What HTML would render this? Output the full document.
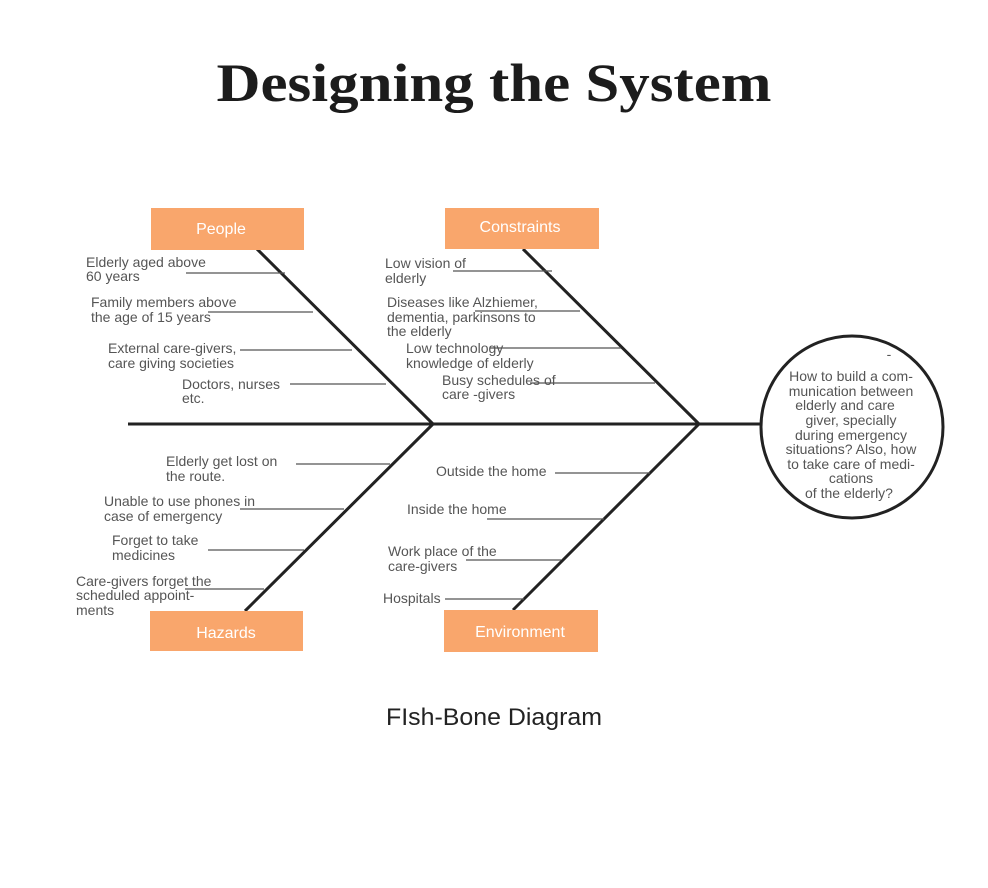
<!DOCTYPE html>
<html><head><meta charset="utf-8"><style>
html,body{margin:0;padding:0;background:#fff;}
svg{display:block;}
.t{font-family:"Liberation Sans",sans-serif;font-size:14px;fill:#555;}
.b{font-family:"Liberation Sans",sans-serif;font-size:16px;fill:#fff;}
</style></head><body>
<svg width="988" height="888" viewBox="0 0 988 888" xmlns="http://www.w3.org/2000/svg">
<rect width="988" height="888" fill="#fff"/>
<text x="494" y="101" text-anchor="middle" font-family="Liberation Serif,serif" font-weight="bold" font-size="54" fill="#1c1c1c" textLength="555" lengthAdjust="spacingAndGlyphs">Designing the System</text>

<g stroke="#222" stroke-width="3" fill="none">
<line x1="128" y1="424" x2="762" y2="424"/>
<line x1="257" y1="249" x2="433" y2="424"/>
<line x1="523" y1="249" x2="699" y2="424"/>
<line x1="245" y1="611" x2="433" y2="424"/>
<line x1="513" y1="610" x2="699" y2="424"/>
<circle cx="852" cy="427" r="91"/>
</g>
<g stroke="#555" stroke-width="1.3">
<line x1="186" y1="273" x2="285" y2="273"/>
<line x1="208" y1="312" x2="313" y2="312"/>
<line x1="240" y1="350" x2="352" y2="350"/>
<line x1="290" y1="384" x2="386" y2="384"/>
<line x1="453" y1="271" x2="552" y2="271"/>
<line x1="475" y1="311" x2="580" y2="311"/>
<line x1="490" y1="348" x2="621" y2="348"/>
<line x1="530" y1="383" x2="655" y2="383"/>
<line x1="296" y1="464" x2="390" y2="464"/>
<line x1="240" y1="509" x2="344" y2="509"/>
<line x1="208" y1="550" x2="304" y2="550"/>
<line x1="185" y1="589" x2="264" y2="589"/>
<line x1="555" y1="473" x2="650" y2="473"/>
<line x1="487" y1="519" x2="604" y2="519"/>
<line x1="466" y1="560" x2="561" y2="560"/>
<line x1="445" y1="599" x2="524" y2="599"/>
</g>

<g fill="#f9a66c">
<rect x="151" y="208" width="153" height="42"/>
<rect x="445" y="208" width="154" height="41"/>
<rect x="150" y="611" width="153" height="40"/>
<rect x="444" y="610" width="154" height="42"/>
</g>
<text class="b" x="221" y="234" text-anchor="middle">People</text>
<text class="b" x="520" y="232" text-anchor="middle">Constraints</text>
<text class="b" x="226" y="638" text-anchor="middle">Hazards</text>
<text class="b" x="520" y="637" text-anchor="middle">Environment</text>

<g class="t">
<text x="86" y="267" class="t">Elderly aged above</text><text x="86" y="281" class="t">60 years</text>
<text x="91" y="307" class="t">Family members above</text><text x="91" y="322" class="t">the age of 15 years</text>
<text x="108" y="353" class="t">External care-givers,</text><text x="108" y="368" class="t">care giving societies</text>
<text x="182" y="389" class="t">Doctors, nurses</text><text x="182" y="403" class="t">etc.</text>

<text x="385" y="268" class="t">Low vision of</text><text x="385" y="283" class="t">elderly</text>
<text x="387" y="307" class="t">Diseases like Alzhiemer,</text><text x="387" y="322" class="t">dementia, parkinsons to</text><text x="387" y="336" class="t">the elderly</text>
<text x="406" y="353" class="t">Low technology</text><text x="406" y="368" class="t">knowledge of elderly</text>
<text x="442" y="385" class="t">Busy schedules of</text><text x="442" y="399" class="t">care -givers</text>

<text x="166" y="466" class="t">Elderly get lost on</text><text x="166" y="481" class="t">the route.</text>
<text x="104" y="506" class="t">Unable to use phones in</text><text x="104" y="521" class="t">case of emergency</text>
<text x="112" y="545" class="t">Forget to take</text><text x="112" y="560" class="t">medicines</text>
<text x="76" y="586" class="t">Care-givers forget the</text><text x="76" y="600" class="t">scheduled appoint-</text><text x="76" y="615" class="t">ments</text>

<text x="436" y="476" class="t">Outside the home</text>
<text x="407" y="514" class="t">Inside the home</text>
<text x="388" y="556" class="t">Work place of the</text><text x="388" y="571" class="t">care-givers</text>
<text x="383" y="603" class="t">Hospitals</text>
</g>

<g class="t" text-anchor="middle">
<text x="889" y="359" class="t">-</text>
<text x="851" y="381" class="t">How to build a com-</text>
<text x="851" y="396" class="t">munication between</text>
<text x="845" y="410" class="t">elderly and care</text>
<text x="851" y="425" class="t">giver, specially</text>
<text x="851" y="440" class="t">during emergency</text>
<text x="851" y="454" class="t">situations? Also, how</text>
<text x="851" y="469" class="t">to take care of medi-</text>
<text x="851" y="483" class="t">cations</text>
<text x="849" y="498" class="t">of the elderly?</text>
</g>

<text x="494" y="725" text-anchor="middle" font-family="Liberation Sans,sans-serif" font-size="24" fill="#222" textLength="216" lengthAdjust="spacingAndGlyphs">FIsh-Bone Diagram</text>
</svg>
</body></html>
